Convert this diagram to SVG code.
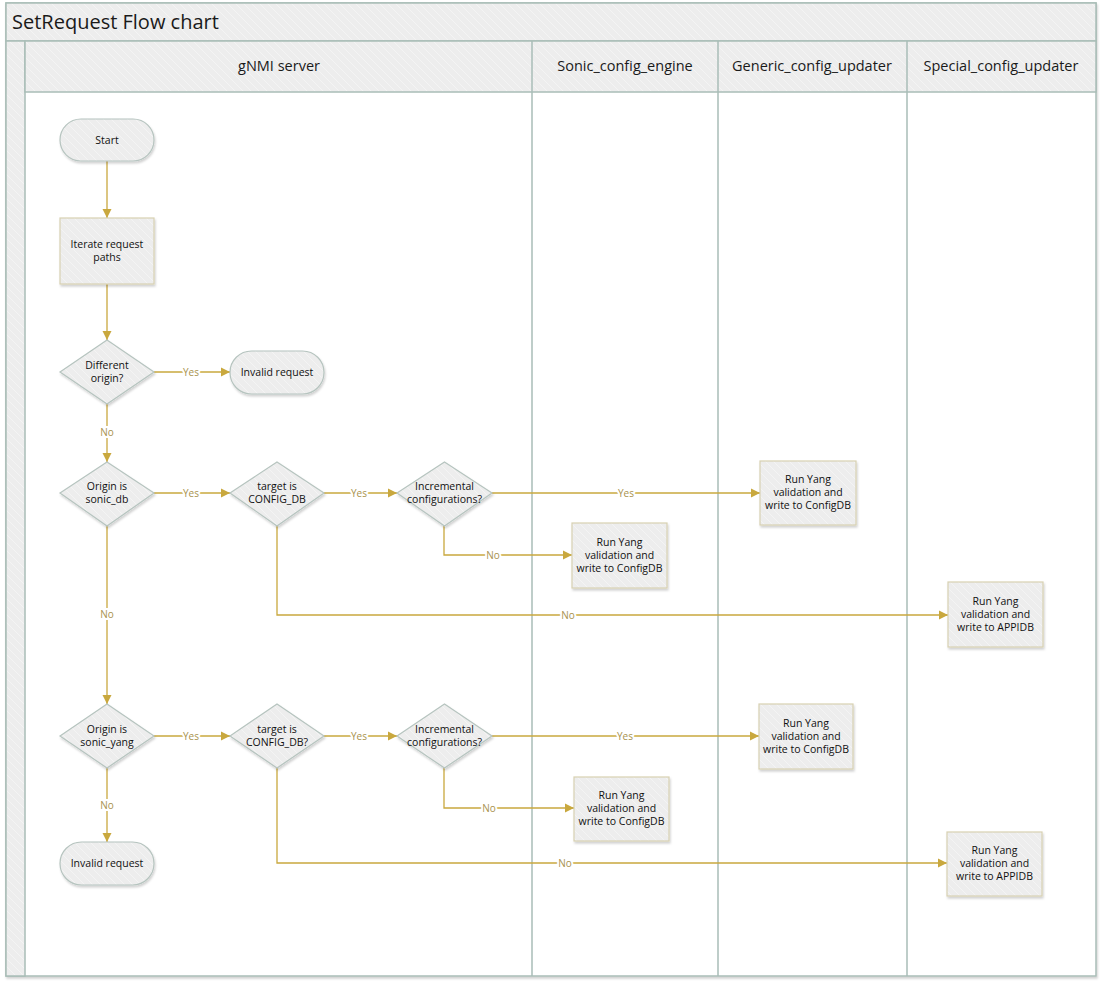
<svg xmlns="http://www.w3.org/2000/svg" width="1101" height="983" viewBox="0 0 1101 983">
<style>
.frame{stroke:#a9bdb7;stroke-width:1.5}
.hdr{font-family:"Open Sans","Noto Sans","Liberation Sans",sans-serif;font-size:14.5px;fill:#1a1a1a;text-anchor:middle}
.title{font-family:"Open Sans","Noto Sans","Liberation Sans",sans-serif;font-size:20px;fill:#1a1a1a}
.nt{font-family:"Open Sans","Noto Sans","Liberation Sans",sans-serif;font-size:10.5px;fill:#111;text-anchor:middle}
.box{fill:url(#hatch);stroke:#d8d1b2;stroke-width:1.2;filter:url(#sh)}
.term{fill:url(#hatch);stroke:#b6c4bf;stroke-width:1.2;filter:url(#sh)}
.edge{fill:none;stroke:#c9a83e;stroke-width:1.3}
.el{font-family:"Open Sans","Noto Sans","Liberation Sans",sans-serif;font-size:10px;fill:#a8924d;text-anchor:middle;stroke:#fff;stroke-width:4px;paint-order:stroke}
</style>
<defs>
<pattern id="hatch" patternUnits="userSpaceOnUse" width="8" height="8">
<rect width="8" height="8" fill="#ededed"/>
<path d="M-2,-2 L10,10 M-2,6 L2,10 M6,-2 L10,2" stroke="#f4f4f4" stroke-width="1"/>
</pattern>
<filter id="sh" x="-10%" y="-10%" width="130%" height="130%">
<feDropShadow dx="1" dy="2" stdDeviation="1.2" flood-color="#000" flood-opacity="0.18"/>
</filter>
<marker id="arr" markerWidth="10" markerHeight="10" refX="9" refY="5" orient="auto" markerUnits="userSpaceOnUse">
<path d="M0,0.5 L9,5 L0,9.5 Z" fill="#c9a83e"/>
</marker>
</defs>
<rect width="1101" height="983" fill="#fff"/>
<g id="pool">
<rect x="6" y="3" width="1090" height="973" fill="#fff" class="frame" filter="url(#sh)"/>
<rect x="6" y="3" width="1090" height="38" fill="url(#hatch)" class="frame"/>
<rect x="6" y="41" width="19" height="935" fill="url(#hatch)" class="frame"/>
<rect x="25" y="41" width="1071" height="51" fill="url(#hatch)" class="frame"/>
<line x1="532" y1="41" x2="532" y2="976" class="frame"/>
<line x1="718" y1="41" x2="718" y2="976" class="frame"/>
<line x1="907" y1="41" x2="907" y2="976" class="frame"/>
<text x="12" y="28.5" class="title">SetRequest Flow chart</text>
<text x="279" y="71" class="hdr">gNMI server</text>
<text x="625" y="71" class="hdr">Sonic_config_engine</text>
<text x="812" y="71" class="hdr">Generic_config_updater</text>
<text x="1001" y="71" class="hdr">Special_config_updater</text>
</g>
<g id="connectors">
<path d="M107,161 V218" class="edge" marker-end="url(#arr)"/>
<path d="M107,284 V340" class="edge" marker-end="url(#arr)"/>
<path d="M154,372 H230" class="edge" marker-end="url(#arr)"/>
<text x="191" y="375.5" class="el">Yes</text>
<path d="M107,404 V462" class="edge" marker-end="url(#arr)"/>
<text x="107" y="435.5" class="el">No</text>
<path d="M154,493 H230" class="edge" marker-end="url(#arr)"/>
<text x="191" y="496.5" class="el">Yes</text>
<path d="M324,493 H397" class="edge" marker-end="url(#arr)"/>
<text x="359" y="496.5" class="el">Yes</text>
<path d="M492,493 H760" class="edge" marker-end="url(#arr)"/>
<text x="626" y="496.5" class="el">Yes</text>
<path d="M444,526 V555 H572" class="edge" marker-end="url(#arr)"/>
<text x="493" y="558.5" class="el">No</text>
<path d="M277,526 V615 H948" class="edge" marker-end="url(#arr)"/>
<text x="568" y="618.5" class="el">No</text>
<path d="M107,526 V704" class="edge" marker-end="url(#arr)"/>
<text x="107" y="617.5" class="el">No</text>
<path d="M154,736 H230" class="edge" marker-end="url(#arr)"/>
<text x="191" y="739.5" class="el">Yes</text>
<path d="M324,736 H397" class="edge" marker-end="url(#arr)"/>
<text x="359" y="739.5" class="el">Yes</text>
<path d="M492,736 H759" class="edge" marker-end="url(#arr)"/>
<text x="625" y="739.5" class="el">Yes</text>
<path d="M444,768 V808 H574" class="edge" marker-end="url(#arr)"/>
<text x="489" y="811.5" class="el">No</text>
<path d="M277,768 V863 H947" class="edge" marker-end="url(#arr)"/>
<text x="565" y="866.5" class="el">No</text>
<path d="M107,768 V842" class="edge" marker-end="url(#arr)"/>
<text x="107" y="808.5" class="el">No</text>
</g>
<g id="start">
<rect x="60" y="119" width="94" height="42" rx="21" class="term"/>
<text x="107" y="144" class="nt">Start</text>
</g>
<g id="iterate">
<rect x="60" y="218" width="94" height="66" class="box"/>
<text x="107" y="248" class="nt">Iterate request</text>
<text x="107" y="261" class="nt">paths</text>
</g>
<g id="diff-origin">
<polygon points="107,340 154,372 107,404 60,372" class="term"/>
<text x="107" y="369" class="nt">Different</text>
<text x="107" y="382" class="nt">origin?</text>
</g>
<g id="invalid1">
<rect x="230" y="351" width="94" height="43" rx="21.5" class="term"/>
<text x="277" y="376" class="nt">Invalid request</text>
</g>
<g id="origin-db">
<polygon points="107,462 154,493 107,526 60,493" class="term"/>
<text x="107" y="490" class="nt">Origin is</text>
<text x="107" y="503" class="nt">sonic_db</text>
</g>
<g id="target-db">
<polygon points="277,462 324,493 277,526 230,493" class="term"/>
<text x="277" y="490" class="nt">target is</text>
<text x="277" y="503" class="nt">CONFIG_DB</text>
</g>
<g id="incr-db">
<polygon points="444.5,462 492,493 444.5,526 397,493" class="term"/>
<text x="444.5" y="490" class="nt">Incremental</text>
<text x="444.5" y="503" class="nt">configurations?</text>
</g>
<g id="generic1">
<rect x="760" y="461" width="96" height="64" class="box"/>
<text x="808" y="483" class="nt">Run Yang</text>
<text x="808" y="496" class="nt">validation and</text>
<text x="808" y="509" class="nt">write to ConfigDB</text>
</g>
<g id="sonic1">
<rect x="572" y="523" width="95" height="65" class="box"/>
<text x="619.5" y="545.5" class="nt">Run Yang</text>
<text x="619.5" y="558.5" class="nt">validation and</text>
<text x="619.5" y="571.5" class="nt">write to ConfigDB</text>
</g>
<g id="special1">
<rect x="948" y="582" width="95" height="65" class="box"/>
<text x="995.5" y="604.5" class="nt">Run Yang</text>
<text x="995.5" y="617.5" class="nt">validation and</text>
<text x="995.5" y="630.5" class="nt">write to APPIDB</text>
</g>
<g id="origin-yang">
<polygon points="107,704 154,736 107,768 60,736" class="term"/>
<text x="107" y="733" class="nt">Origin is</text>
<text x="107" y="746" class="nt">sonic_yang</text>
</g>
<g id="target-yang">
<polygon points="277,704 324,736 277,768 230,736" class="term"/>
<text x="277" y="733" class="nt">target is</text>
<text x="277" y="746" class="nt">CONFIG_DB?</text>
</g>
<g id="incr-yang">
<polygon points="444.5,704 492,736 444.5,768 397,736" class="term"/>
<text x="444.5" y="733" class="nt">Incremental</text>
<text x="444.5" y="746" class="nt">configurations?</text>
</g>
<g id="generic2">
<rect x="759" y="704" width="94" height="65" class="box"/>
<text x="806" y="727" class="nt">Run Yang</text>
<text x="806" y="740" class="nt">validation and</text>
<text x="806" y="753" class="nt">write to ConfigDB</text>
</g>
<g id="sonic2">
<rect x="574" y="777" width="95" height="64" class="box"/>
<text x="621.5" y="799" class="nt">Run Yang</text>
<text x="621.5" y="812" class="nt">validation and</text>
<text x="621.5" y="825" class="nt">write to ConfigDB</text>
</g>
<g id="special2">
<rect x="947" y="832" width="95" height="64" class="box"/>
<text x="994.5" y="854" class="nt">Run Yang</text>
<text x="994.5" y="867" class="nt">validation and</text>
<text x="994.5" y="880" class="nt">write to APPIDB</text>
</g>
<g id="invalid2">
<rect x="60" y="842" width="94" height="43" rx="21.5" class="term"/>
<text x="107" y="867" class="nt">Invalid request</text>
</g>
</svg>
